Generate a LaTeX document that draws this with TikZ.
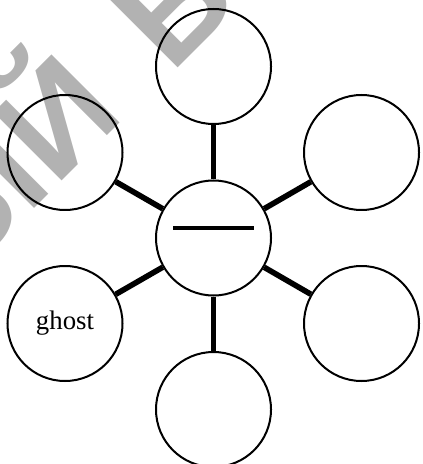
\documentclass[tikz,border=0pt]{standalone}
\usepackage{fontspec}
\setmainfont{Liberation Serif}
\newfontfamily\wmfont{Liberation Sans}
\begin{document}
\begin{tikzpicture}[x=0.5pt,y=-0.5pt,
  bubble/.style={circle,draw=black,line width=1pt,minimum size=57.5pt,inner sep=0pt,
    font=\fontsize{13.4}{16}\selectfont},
  link/.style={line width=2.8pt,draw=black},
  wm/.style={text=black!30,inner sep=0pt,rotate=45,
    font=\wmfont\bfseries\fontsize{70}{75}\selectfont}]
\clip (0,0) rectangle (422,464);
% faint background lettering
\node[wm,anchor=base west] (wmb) at (171,75) {В};
\node[wm,anchor=base east] (wma) at (127,116) {ЫЙ};
% hub and spokes
\node[bubble] (c) at (213.5,238) {};
\node[bubble] (t)  at (213.5,66.5) {};
\node[bubble] (ul) at (65,152.5) {};
\node[bubble] (ur) at (361.5,152.5) {};
\node[bubble] (ll) at (65,323.5) {ghost};
\node[bubble] (lr) at (361.5,323.5) {};
\node[bubble] (b)  at (213.5,409.5) {};
\foreach \n in {t,ul,ur,ll,lr,b} \draw[link] (c) -- (\n);
% blank to fill in
\draw[line width=2pt] ([shift={(-40.5,-10)}]c.center) -- ([shift={(40.5,-10)}]c.center);
\end{tikzpicture}
\end{document}
